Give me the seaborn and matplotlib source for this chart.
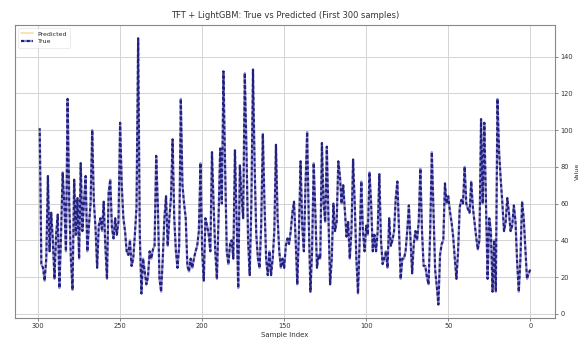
import numpy as np
import pandas as pd
import matplotlib
matplotlib.use("Agg")
import matplotlib.pyplot as plt
import seaborn as sns

# true values, sample index 0..299
true_vals = [
    24, 22, 19, 35, 52, 61, 30, 12, 28, 50,
    59, 48, 45, 55, 63, 50, 45, 60, 73, 88,
    117, 12, 40, 12, 45, 52, 19, 60, 104, 60,
    106, 40, 35, 42, 50, 58, 72, 55, 57, 60,
    80, 60, 62, 58, 34, 19, 30, 42, 50, 56,
    64, 60, 71, 40, 38, 32, 5, 15, 24, 55,
    88, 45, 16, 20, 26, 26, 45, 79, 50, 40,
    45, 38, 22, 40, 59, 45, 34, 30, 30, 19,
    45, 72, 63, 45, 40, 37, 52, 25, 34, 30,
    27, 40, 76, 45, 34, 43, 34, 60, 77, 43,
    48, 34, 45, 72, 40, 11, 30, 60, 84, 45,
    30, 50, 42, 56, 70, 60, 75, 83, 50, 45,
    60, 30, 16, 52, 91, 50, 60, 93, 30, 32,
    25, 55, 82, 34, 12, 50, 99, 70, 34, 48,
    83, 45, 16, 40, 61, 55, 45, 38, 41, 37,
    25, 30, 25, 34, 52, 92, 45, 30, 21, 34,
    21, 30, 60, 98, 48, 25, 30, 43, 80, 133,
    60, 21, 40, 90, 131, 52, 64, 81, 14, 52,
    89, 30, 40, 38, 27, 34, 80, 132, 60, 90,
    52, 19, 34, 59, 88, 34, 43, 48, 52, 18,
    34, 82, 45, 37, 34, 30, 25, 30, 23, 26,
    52, 60, 70, 117, 37, 25, 34, 52, 95, 63,
    52, 37, 64, 52, 30, 12, 19, 59, 86, 37,
    35, 30, 34, 20, 16, 23, 30, 11, 43, 150,
    58, 43, 30, 26, 40, 32, 34, 45, 52, 70,
    104, 50, 43, 52, 41, 47, 73, 66, 19, 37,
    61, 45, 52, 48, 25, 47, 61, 100, 60, 48,
    34, 75, 61, 45, 82, 30, 63, 43, 73, 13,
    30, 60, 117, 34, 59, 77, 43, 14, 54, 43,
    19, 40, 55, 34, 75, 30, 18, 25, 27, 101,
]
# predicted line sits under the true line in the picture (only faint traces show)
pred_vals = list(true_vals)
sample_idx = list(range(len(true_vals)))

df = pd.DataFrame({"idx": sample_idx, "true": true_vals, "pred": pred_vals})

sns.set_theme(style="whitegrid")
plt.rcParams["font.family"] = ["DejaVu Sans"]
plt.rcParams["grid.color"] = "#d4d4d4"
plt.rcParams["grid.linewidth"] = 0.7

fig = plt.figure(figsize=(5.84, 3.52), dpi=100)
ax = fig.add_axes([0.026, 0.097, 0.924, 0.832])

sns.lineplot(data=df, x="idx", y="pred", ax=ax, color="#f6c77a", alpha=0.6,
             linewidth=1.2, label="Predicted")
sns.lineplot(data=df, x="idx", y="true", ax=ax, color="#22227e",
             linewidth=1.6, linestyle=(0, (1.5, 1.0)), gapcolor="#8f8fe0",
             label="True")

ax.invert_xaxis()
ax.yaxis.tick_right()
ax.yaxis.set_label_position("right")
ax.set_xticks([300, 250, 200, 150, 100, 50, 0])
ax.set_yticks([0, 20, 40, 60, 80, 100, 120, 140])
ax.tick_params(axis="both", labelsize=4.8, length=2.5, width=0.5, pad=1.5,
               color="#555555", colors="#333333")
ax.tick_params(axis="y", right=True, left=False)
ax.tick_params(axis="x", bottom=True)

ax.set_title("TFT + LightGBM: True vs Predicted (First 300 samples)",
             fontsize=6, pad=5, color="#333333")
ax.set_xlabel("Sample Index", fontsize=5, labelpad=2, color="#333333")
ax.set_ylabel("Value", fontsize=4.5, labelpad=1.5, color="#333333")

for s in ax.spines.values():
    s.set_color("#888888")
    s.set_linewidth(0.8)

leg = ax.legend(loc="upper left", fontsize=4.5, frameon=True,
                handlelength=1.8, borderpad=0.5, labelspacing=0.4)
leg.get_frame().set_edgecolor("#dddddd")
leg.get_frame().set_linewidth(0.5)

fig.savefig("out.png", dpi=100, facecolor="white")
